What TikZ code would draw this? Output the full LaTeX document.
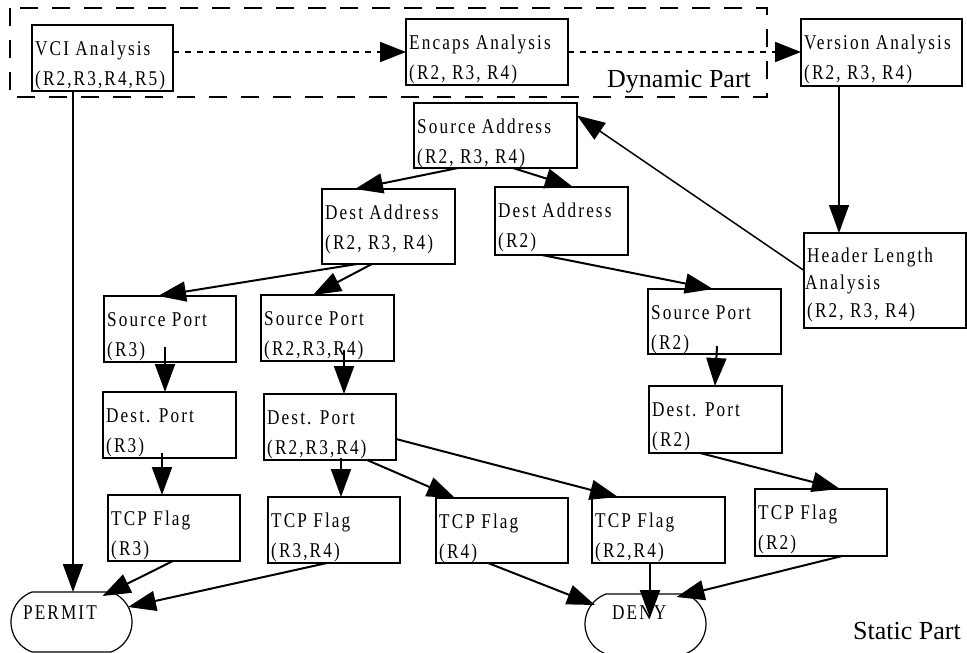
\documentclass[tikz,border=0pt]{standalone}
\usepackage{fontspec}
\setmainfont{Liberation Serif}
\newfontfamily\boxfont[FakeStretch=0.82,LetterSpace=10]{Liberation Serif}
\usetikzlibrary{arrows.meta,shapes.misc}
\tikzset{
  box/.style={draw, line width=2pt, rectangle, inner sep=0pt, outer sep=0pt, anchor=north west},
  btext/.style={font=\boxfont\fontsize{21}{25}\selectfont, inner sep=0pt, anchor=base west},
  lbl/.style={font=\fontsize{26}{30}\selectfont, inner sep=0pt, anchor=base west},
  arr/.style={line width=2pt, -{Triangle[length=28pt,width=20pt]}},
  thinarr/.style={line width=1.5pt, -{Triangle[length=28pt,width=20pt]}},
  dotarr/.style={line width=2pt, dash pattern=on 6pt off 6pt, -{Triangle[length=26pt,width=20pt]}},
  term/.style={draw, line width=1.2pt, rounded rectangle, rounded rectangle arc length=140,
    inner sep=0pt, outer sep=0pt, minimum width=121pt, minimum height=60pt, anchor=center},
  region/.style={line width=2pt, dash pattern=on 18pt off 14pt},
}
\newcommand\bx[7]{%
  \node[box, minimum width={(#4)-(#2)}, minimum height={(#5)-(#3)}] (#1) at (#2,#3) {};
  \node[btext] (#1a) at (#2+3,#3+30) {#6};
  \node[btext] (#1b) at (#2+3,#3+60) {#7};
}
\begin{document}
\begin{tikzpicture}[x=1pt,y=-1pt]
\useasboundingbox (0,0) rectangle (967,653);
% dynamic region
\draw[region] (10,8) rectangle (767,97);
\node[lbl] (dyn) at (607,87) {Dynamic Part};
\node[lbl] (stat) at (853,639) {Static Part};
% boxes
\bx{vci}{32}{25}{173}{91}{VCI Analysis}{(R2,R3,R4,R5)}
\bx{enc}{406}{19}{568}{85}{Encaps Analysis}{(R2, R3, R4)}
\bx{ver}{801}{19}{962}{86}{Version Analysis}{(R2, R3, R4)}
\bx{sa}{414}{103}{577}{168}{Source Address}{(R2, R3, R4)}
\bx{da1}{322}{189}{455}{264}{Dest Address}{(R2, R3, R4)}
\bx{da2}{495}{187}{628}{255}{Dest Address}{(R2)}
\node[box, minimum width=162pt, minimum height=95pt] (hl) at (804,233) {};
\node[btext] (hla) at (807,262) {Header Length};
\node[btext] (hlb) at (805,289) {Analysis};
\node[btext] (hlc) at (807,317) {(R2, R3, R4)};
\bx{sp1}{104}{296}{236}{362}{Source Port}{(R3)}
\bx{sp2}{261}{295}{394}{361}{Source Port}{(R2,R3,R4)}
\bx{sp3}{648}{289}{781}{354}{Source Port}{(R2)}
\bx{dp1}{103}{392}{236}{458}{Dest. Port}{(R3)}
\bx{dp2}{264}{394}{396}{460}{Dest. Port}{(R2,R3,R4)}
\bx{dp3}{649}{386}{782}{453}{Dest. Port}{(R2)}
\bx{tf1}{108}{495}{240}{561}{TCP Flag}{(R3)}
\bx{tf2}{268}{497}{400}{563}{TCP Flag}{(R3,R4)}
\bx{tf3}{436}{498}{568}{563}{TCP Flag}{(R4)}
\bx{tf4}{592}{497}{725}{563}{TCP Flag}{(R2,R4)}
\bx{tf5}{755}{489}{887}{556}{TCP Flag}{(R2)}
% terminals
\node[term] (permit) at (71.5,622) {};
\node[btext] (permitt) at (23,619) {PERMIT};
\node[term] (deny) at (645.5,624) {};
\node[btext] (denyt) at (612,619) {DENY};
% dynamic chain
\draw[dotarr] (vci.east |- enc.west) -- (enc.west);
\draw[dotarr] (enc.east) -- (ver.west |- enc.east);
\coordinate (vcis) at ([xshift=41pt]vci.south west);
\draw[arr] (vcis) -- (vcis |- permit.north);
\coordinate (vers) at ([xshift=38pt]ver.south west);
\draw[thinarr] (vers) -- (vers |- hl.north);
\draw[thinarr] ([yshift=10pt]hl.west) -- ([yshift=20pt]sa.east);
% static tree
\draw[arr] ([xshift=44pt]sa.south west) -- ([xshift=33pt]da1.north west);
\draw[arr] ([xshift=99pt]sa.south west) -- ([xshift=78pt]da2.north west);
\draw[arr] ([xshift=35pt]da1.south west) -- ([xshift=54pt]sp1.north west);
\draw[arr] ([xshift=50pt]da1.south west) -- ([xshift=52pt]sp2.north west);
\draw[arr] ([xshift=47pt]da2.south west) -- ([xshift=65pt]sp3.north west);
\coordinate (sp1s) at ([xshift=61pt,yshift=15pt]sp1.south west);
\draw[arr] (sp1s) -- (sp1s |- dp1.north);
\coordinate (sp2s) at ([xshift=83pt,yshift=11pt]sp2.south west);
\draw[arr] (sp2s) -- (sp2s |- dp2.north);
\draw[arr] ([xshift=69pt,yshift=8pt]sp3.south west) -- ([xshift=66pt]dp3.north west);
\coordinate (dp1s) at ([xshift=59pt,yshift=5pt]dp1.south west);
\draw[arr] (dp1s) -- (dp1s |- tf1.north);
\coordinate (dp2s) at ([xshift=77pt,yshift=2pt]dp2.south west);
\draw[arr] (dp2s) -- (dp2s |- tf2.north);
\draw[arr] ([xshift=103pt]dp2.south west) -- ([xshift=19pt]tf3.north west);
\draw[arr] ([yshift=-12pt]dp2.east) -- ([xshift=26pt]tf4.north west);
\draw[arr] ([xshift=51pt]dp3.south west) -- ([xshift=85pt]tf5.north west);
% to terminals
\draw[arr] ([xshift=65pt]tf1.south west) -- ([xshift=31pt,yshift=-4pt]permit.north);
\draw[arr] ([xshift=59pt]tf2.south west) -- ([xshift=-4pt,yshift=15pt]permit.east);
\draw[arr] ([xshift=52pt]tf3.south west) -- ([xshift=10pt,yshift=19pt]deny.west);
\coordinate (tf4s) at ([xshift=58pt]tf4.south west);
\draw[arr] (tf4s) -- ([yshift=-24pt]tf4s |- deny.north);
\draw[arr] ([xshift=87pt]tf5.south west) -- ([xshift=31pt,yshift=-3pt]deny.north);
\end{tikzpicture}
\end{document}
